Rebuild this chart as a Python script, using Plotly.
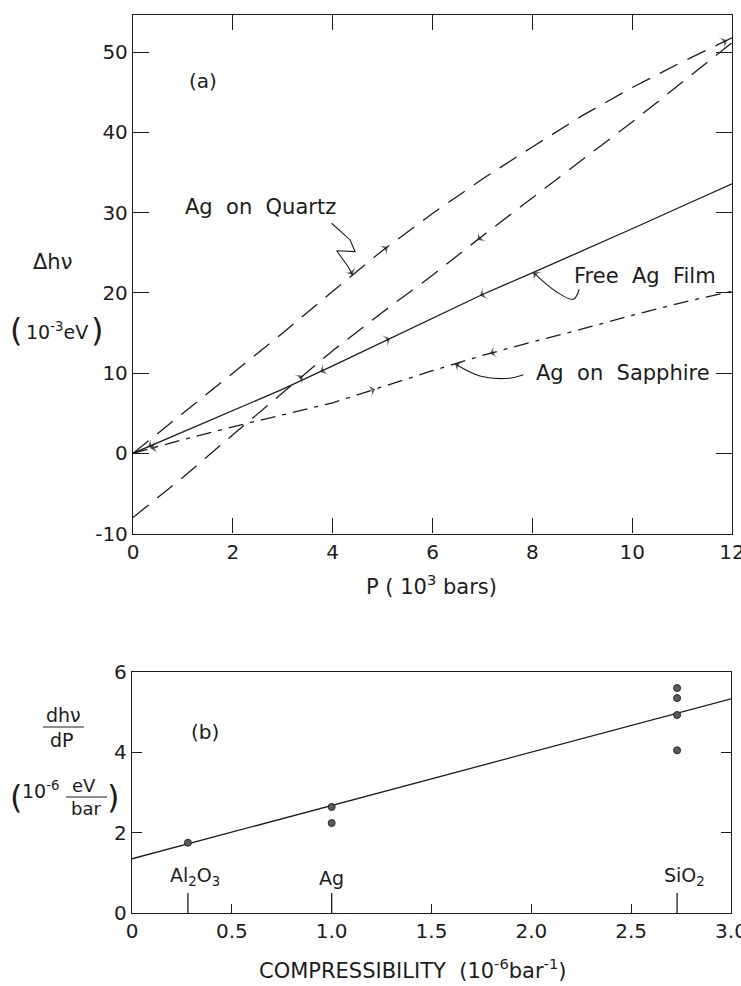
import numpy as np
import plotly.graph_objects as go

# ---------------- data: panel (a) ----------------
P = [0, 1, 2, 3, 4, 5, 6, 7, 8, 9, 10, 11, 12]
quartz_up = [0, 5.0, 10.1, 15.0, 20.2, 25.3, 29.9, 34.2, 38.2, 42.1, 45.6, 48.8, 51.8]
quartz_down = [-8.0, -3.0, 2.3, 7.6, 12.8, 17.6, 22.2, 27.1, 31.9, 36.6, 41.3, 46.2, 51.2]
free_film = [0, 2.7, 5.3, 8.0, 10.9, 13.9, 16.9, 19.8, 22.5, 25.2, 28.0, 30.8, 33.6]
sapphire = [0, 1.7, 3.3, 4.8, 6.3, 8.3, 10.3, 12.2, 13.9, 15.5, 17.2, 18.8, 20.2]

a_xticks = [0, 2, 4, 6, 8, 10, 12]
a_xticktext = ["0", "2", "4", "6", "8", "10", "12"]
a_yticks = [-10, 0, 10, 20, 30, 40, 50]
a_yticktext = ["-10", "0", "10", "20", "30", "40", "50"]

# ---------------- data: panel (b) ----------------
comp = [0.28, 1.0, 1.0, 2.73, 2.73, 2.73, 2.73]
slope = [1.75, 2.64, 2.24, 5.6, 5.35, 4.93, 4.05]
fit_x = [0, 3]
fit_y = [1.35, 5.33]
materials = ["Al<sub>2</sub>O<sub>3</sub>", "Ag", "SiO<sub>2</sub>"]
mat_comp = [0.28, 1.0, 2.73]
b_xticks = [0, 0.5, 1.0, 1.5, 2.0, 2.5, 3.0]
b_xticktext = ["0", "0.5", "1.0", "1.5", "2.0", "2.5", "3.0"]
b_yticks = [0, 2, 4, 6]
b_yticktext = ["0", "2", "4", "6"]

INK = "#1c1c1c"
FONT = "DejaVu Sans"
W, H = 741, 986


def px(x):
    return x / W


def py(y):
    return 1 - y / H


fig = go.Figure()

LW = 1.3
fig.add_trace(go.Scatter(x=P, y=quartz_up, mode="lines", line=dict(color=INK, width=LW, dash="20px,11px"),
                         xaxis="x", yaxis="y", hoverinfo="skip"))
fig.add_trace(go.Scatter(x=P, y=quartz_down, mode="lines", line=dict(color=INK, width=LW, dash="20px,11px"),
                         xaxis="x", yaxis="y", hoverinfo="skip"))
fig.add_trace(go.Scatter(x=P, y=free_film, mode="lines", line=dict(color=INK, width=LW),
                         xaxis="x", yaxis="y", hoverinfo="skip"))
fig.add_trace(go.Scatter(x=P, y=sapphire, mode="lines", line=dict(color=INK, width=LW, dash="15px,7px,4px,7px"),
                         xaxis="x", yaxis="y", hoverinfo="skip"))


def arrowhead(xa, ya, xb, yb, xaxis="x", yaxis="y"):
    # small arrowhead at (xa, ya), pointing away from (xb, yb)
    fig.add_trace(go.Scatter(x=[xb, xa], y=[yb, ya], mode="markers", xaxis=xaxis, yaxis=yaxis,
                             hoverinfo="skip",
                             marker=dict(symbol=["circle", "arrow-wide"], size=[0, 9], color=INK,
                                         angleref="previous", line=dict(width=0))))


# direction arrowheads on the curves
arrow_specs = [
    (quartz_up, 5.1, 1), (quartz_up, 11.9, 1),
    (quartz_down, 6.9, -1), (quartz_down, 3.4, 1),
    (free_film, 3.75, -1), (free_film, 5.15, 1), (free_film, 6.95, -1), (free_film, 0.3, -1),
    (sapphire, 7.15, -1), (sapphire, 4.85, 1), (sapphire, 0.35, -1),
]
for curve, xa, d in arrow_specs:
    ya = float(np.interp(xa, P, curve))
    xb = xa - d * 0.35
    yb = float(np.interp(xb, P, curve))
    arrowhead(xa, ya, xb, yb)

# label leader lines (panel a)
leaders = [
    ([3.98, 4.35, 4.45, 4.08, 4.31, 4.40], [28.68, 26.6, 25.14, 25.26, 23.27, float(np.interp(4.40, P, quartz_up))], "linear"),
    ([8.94, 8.82, 8.48, 8.02], [20.45, 19.2, 20.14, float(np.interp(8.02, P, free_film))], "spline"),
    ([7.82, 7.55, 6.95, 6.45], [9.79, 9.36, 9.64, float(np.interp(6.45, P, sapphire))], "spline"),
]
for lx, ly, shp in leaders:
    fig.add_trace(go.Scatter(x=lx, y=ly, mode="lines", line=dict(color=INK, width=1.1, shape=shp),
                             xaxis="x", yaxis="y", hoverinfo="skip"))
    arrowhead(lx[-1], ly[-1], lx[-2] + 0.6 * (lx[-1] - lx[-2]), ly[-2] + 0.6 * (ly[-1] - ly[-2]))

# ---------------- panel (b) ----------------
fig.add_trace(go.Scatter(x=fit_x, y=fit_y, mode="lines", line=dict(color=INK, width=LW),
                         xaxis="x2", yaxis="y2", hoverinfo="skip"))
fig.add_trace(go.Scatter(x=comp, y=slope, mode="markers",
                         marker=dict(color="#5a5a5a", size=7, line=dict(color="#2a2a2a", width=1)),
                         xaxis="x2", yaxis="y2", hoverinfo="skip"))

shapes = []
for mc in mat_comp:
    shapes.append(dict(type="line", xref="x2", yref="y2", x0=mc, x1=mc, y0=0, y1=0.5,
                       line=dict(color=INK, width=1.3)))

# fraction bars
shapes.append(dict(type="line", xref="paper", yref="paper", x0=px(43), x1=px(84), y0=py(727), y1=py(727),
                   line=dict(color=INK, width=1.2)))
shapes.append(dict(type="line", xref="paper", yref="paper", x0=px(66), x1=px(107), y0=py(797), y1=py(797),
                   line=dict(color=INK, width=1.2)))


def txt(text, x, y, size=20, xref="paper", yref="paper", xanchor="center", yanchor="middle"):
    return dict(text=text, x=x, y=y, xref=xref, yref=yref, showarrow=False,
                xanchor=xanchor, yanchor=yanchor, font=dict(family=FONT, size=size, color=INK))


NB = "\u00a0"
anns = [
    txt("(a)", 1.40, 46.4, xref="x", yref="y"),
    txt("Ag" + NB * 2 + "on" + NB * 2 + "Quartz", 2.55, 30.7, xref="x", yref="y", size=21),
    txt("Free" + NB * 2 + "Ag" + NB * 2 + "Film", 10.25, 22.1, xref="x", yref="y", size=21),
    txt("Ag" + NB * 2 + "on" + NB * 2 + "Sapphire", 9.82, 10.0, xref="x", yref="y", size=21),
    txt("\u0394h\u03bd", px(52), py(262), size=21),
    txt("(", px(16), py(330), size=32),
    txt("10<sup>-3</sup>eV", px(57), py(331), size=19),
    txt(")", px(97), py(330), size=32),
    txt("P" + NB + "(" + NB + "10<sup>3</sup>" + NB + "bars)", px(432), py(585), size=21),
    # panel b
    txt("(b)", 0.365, 4.5, xref="x2", yref="y2"),
    txt("dh\u03bd", px(63), py(715), size=19),
    txt("dP", px(62), py(740), size=19),
    txt("(", px(16), py(797), size=32),
    txt("10<sup>-6</sup>", px(40), py(790), size=19),
    txt("eV", px(84), py(785), size=18),
    txt("bar", px(86), py(808), size=18),
    txt(")", px(113), py(797), size=32),
    txt("COMPRESSIBILITY" + NB + NB + "(10<sup>-6</sup>bar<sup>-1</sup>)", px(412), py(969), size=21),
]
for m, mc in zip(materials, mat_comp):
    anns.append(dict(text=m, x=mc, y=0.55, xref="x2", yref="y2", showarrow=False, xanchor="center",
                     yanchor="bottom", xshift=7 if "sub" in m else 0,
                     font=dict(family=FONT, size=19, color=INK)))

axis_common = dict(showgrid=False, zeroline=False, showline=True, linecolor=INK, linewidth=1.3,
                   ticks="inside", tickcolor=INK, tickwidth=1.3,
                   tickfont=dict(family=FONT, size=20, color=INK), automargin=False,
                   ticklabeloverflow="allow", fixedrange=True)

fig.update_layout(
    width=W, height=H, margin=dict(l=0, r=0, t=0, b=0),
    paper_bgcolor="white", plot_bgcolor="white", showlegend=False,
    xaxis=dict(domain=[px(133), px(732)], range=[0, 12], tickvals=a_xticks, ticktext=a_xticktext,
               anchor="y", mirror="ticks", ticklen=15, **axis_common),
    yaxis=dict(domain=[py(533.5), py(15)], range=[-10, 54.65], tickvals=a_yticks, ticktext=a_yticktext,
               anchor="x", mirror="ticks", ticklen=16, **axis_common),
    xaxis2=dict(domain=[px(132), px(731)], range=[0, 3], tickvals=b_xticks, ticktext=b_xticktext,
                anchor="y2", mirror=True, ticklen=9, **axis_common),
    yaxis2=dict(domain=[py(913), py(672)], range=[0, 6], tickvals=b_yticks, ticktext=b_yticktext,
                anchor="x2", mirror="ticks", ticklen=10, **axis_common),
    annotations=anns, shapes=shapes,
)

fig.write_html("out.html")
